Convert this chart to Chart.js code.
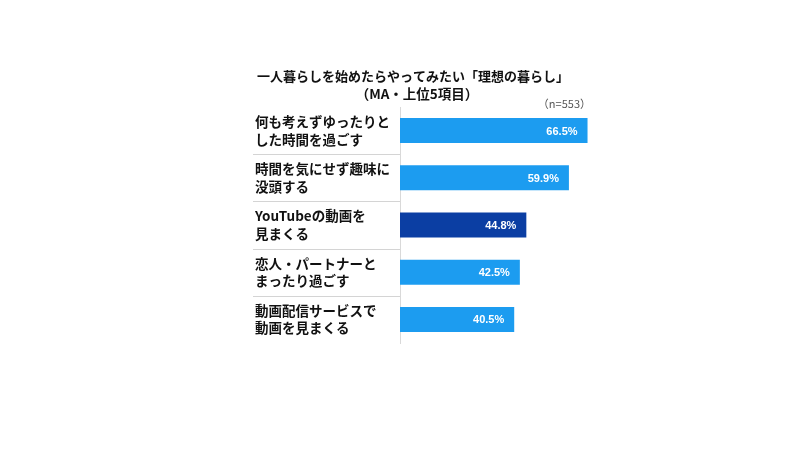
<!DOCTYPE html>
<html lang="ja">
<head>
<meta charset="UTF-8">
<title>一人暮らしを始めたらやってみたい「理想の暮らし」</title>
<script src="https://cdn.jsdelivr.net/npm/chart.js@4.4.1/dist/chart.umd.min.js"></script>
<style>
  html, body { margin: 0; padding: 0; background: #fff; }
  #wrap { width: 800px; height: 449px; position: relative; }
</style>
</head>
<body>
<div id="wrap"><canvas id="chart"></canvas></div>
<script>
// data
const categories = [
  ["何も考えずゆったりと", "した時間を過ごす"],
  ["時間を気にせず趣味に", "没頭する"],
  ["YouTubeの動画を", "見まくる"],
  ["恋人・パートナーと", "まったり過ごす"],
  ["動画配信サービスで", "動画を見まくる"]
];
const values = [66.5, 59.9, 44.8, 42.5, 40.5];
const highlightIndex = 2; // YouTube bar is dark blue
const titleLines = ["一人暮らしを始めたらやってみたい「理想の暮らし」", "（MA・上位5項目）"];
const sampleNote = "（n=553）";

const FONT = "'Noto Sans CJK JP', 'Noto Sans', sans-serif";
const LIGHT = "#1c9cf0";
const DARK = "#0b3ea3";

// title, n-note, row separators and value labels
const decorations = {
  id: "decorations",
  afterDatasetsDraw(chart) {
    const ctx = chart.ctx;
    const area = chart.chartArea;
    const yScale = chart.scales.y;
    const meta = chart.getDatasetMeta(0);

    ctx.save();
    // title
    ctx.fillStyle = "#111";
    ctx.textAlign = "center";
    ctx.textBaseline = "middle";
    ctx.font = "bold 13px " + FONT;
    ctx.fillText(titleLines[0], 413, 76);
    ctx.font = "bold 13.5px " + FONT;
    ctx.fillText(titleLines[1], 417, 94);

    // sample size note
    ctx.font = "11px " + FONT;
    ctx.fillStyle = "#555";
    ctx.textAlign = "right";
    ctx.fillText(sampleNote, 591, 104);

    // separators between categories, label column only
    ctx.strokeStyle = "#d4d4d4";
    ctx.lineWidth = 1;
    for (let i = 0; i < categories.length - 1; i++) {
      const y = Math.round((yScale.getPixelForValue(i) + yScale.getPixelForValue(i + 1)) / 2) + 0.5;
      ctx.beginPath();
      ctx.moveTo(253, y);
      ctx.lineTo(area.left, y);
      ctx.stroke();
    }

    // value labels inside bars
    ctx.font = "bold 11px 'Liberation Sans', Arial, sans-serif";
    ctx.fillStyle = "#fff";
    ctx.textAlign = "right";
    meta.data.forEach((bar, i) => {
      ctx.fillText(values[i].toFixed(1) + "%", bar.x - 10, bar.y + 1);
    });
    ctx.restore();
  }
};

new Chart(document.getElementById("chart"), {
  type: "bar",
  data: {
    labels: categories,
    datasets: [{
      data: values,
      backgroundColor: values.map((v, i) => i === highlightIndex ? DARK : LIGHT),
      borderWidth: 0,
      barPercentage: 0.53,
      categoryPercentage: 1
    }]
  },
  options: {
    indexAxis: "y",
    responsive: true,
    maintainAspectRatio: false,
    animation: false,
    layout: { padding: { left: 255, right: 118, top: 107, bottom: 106 } },
    plugins: {
      legend: { display: false },
      tooltip: { enabled: false }
    },
    scales: {
      x: { display: false, min: 0, max: 100 },
      y: {
        afterFit(scale) { scale.width = 145; },
        grid: { display: false, drawTicks: false },
        border: { display: true, color: "#d9d9d9", width: 1 },
        ticks: {
          crossAlign: "far",
          padding: 0,
          color: "#111",
          font: { family: FONT, size: 13.5, weight: "bold", lineHeight: 1.3 }
        }
      }
    }
  },
  plugins: [decorations]
});
</script>
</body>
</html>
